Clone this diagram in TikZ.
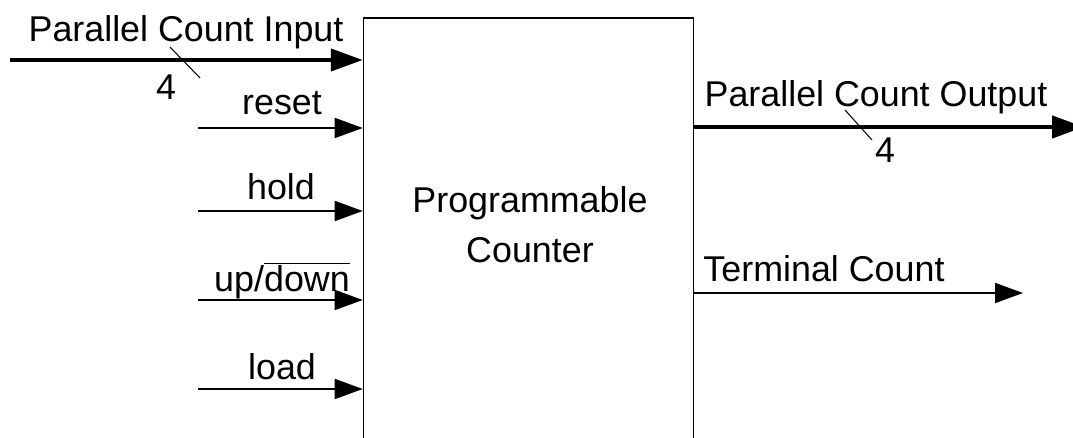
\documentclass[tikz,border=0pt]{standalone}
\usepackage{fontspec}
\setmainfont{Liberation Sans}
\usetikzlibrary{arrows.meta,positioning}

\tikzset{
  bus/.style={line width=2.5pt, -{Triangle[length=0.64cm,width=0.44cm]}},
  wire/.style={line width=1pt, -{Triangle[length=0.56cm,width=0.40cm]}},
  sig/.style={font=\fontsize{20.4}{28.5}\selectfont, inner sep=0pt, anchor=base},
  cntbox/.style={draw, line width=0.9pt, minimum width=6.6cm, minimum height=8.84cm, inner sep=0pt},
}

\begin{document}
\begin{tikzpicture}[x=0.02cm, y=-0.02cm]
\clip (0,0) rectangle (1073,438);

\node[cntbox] (ctr) at (528.5,239) {};
\node[sig, align=center] (name) at (530,263) {Programmable\\Counter};

% parallel input, 4 bits
\coordinate (pin) at (10,60);
\draw[bus] (pin) -- (pin -| ctr.west);
\draw[line width=0.6pt] (170,47) -- (200,78);
\node[sig] (pinlab) at (186,42) {Parallel Count Input};
\node[sig] (pinw) at (166,100) {4};

% control inputs
\coordinate (rst) at (198,128);
\draw[wire] (rst) -- (rst -| ctr.west);
\node[sig] (rstlab) at (282,115) {reset};

\coordinate (hld) at (198,211);
\draw[wire] (hld) -- (hld -| ctr.west);
\node[sig] (hldlab) at (281,200) {hold};

\coordinate (ud) at (198,300);
\draw[wire] (ud) -- (ud -| ctr.west);
\node[sig] (udlab) at (282,292) {up/$\overline{\hbox{down}}$};

\coordinate (ld) at (198,389);
\draw[wire] (ld) -- (ld -| ctr.west);
\node[sig] (ldlab) at (282,380) {load};

% outputs
\coordinate (pout) at (1084,127);
\draw[bus] (pout -| ctr.east) -- (pout);
\draw[line width=0.6pt] (845,110) -- (872,140);
\node[sig] (poutlab) at (876,107) {Parallel Count Output};
\node[sig] (poutw) at (885,163) {4};

\coordinate (tc) at (1023,293);
\draw[wire] (tc -| ctr.east) -- (tc);
\node[sig] (tclab) at (824,282) {Terminal Count};
\end{tikzpicture}
\end{document}
